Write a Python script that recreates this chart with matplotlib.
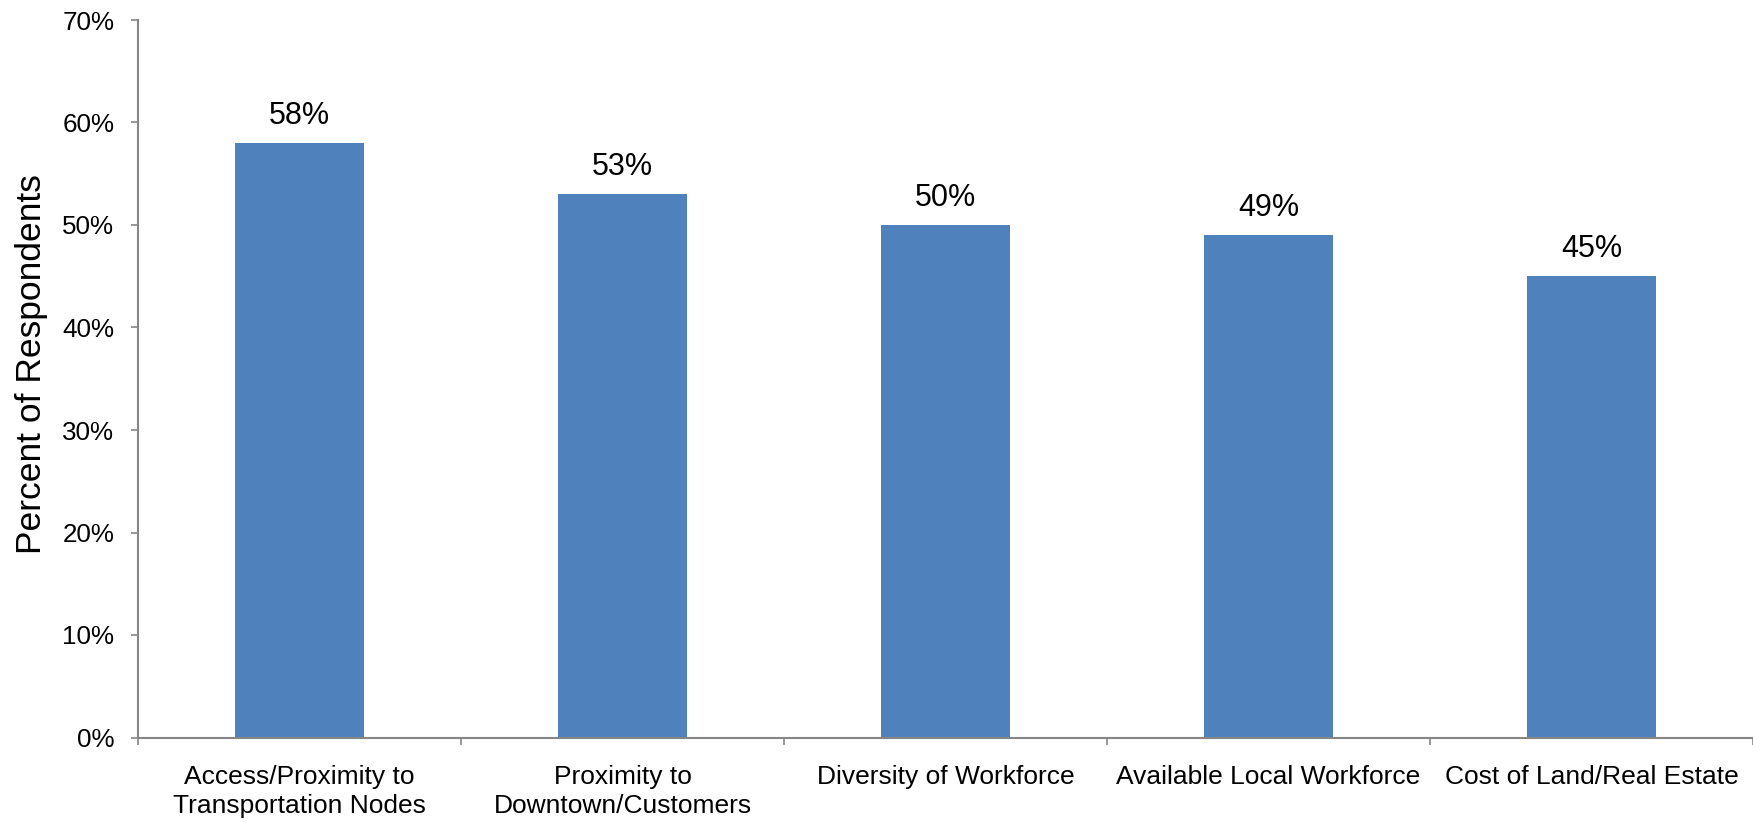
import numpy as np
import matplotlib.pyplot as plt
from matplotlib.ticker import FixedLocator, PercentFormatter

plt.rcParams['font.family'] = ['Liberation Sans', 'DejaVu Sans']

categories = ['Access/Proximity to\nTransportation Nodes', 'Proximity to\nDowntown/Customers',
              'Diversity of Workforce', 'Available Local Workforce', 'Cost of Land/Real Estate']
values = [58, 53, 50, 49, 45]
bar_labels = ['58%', '53%', '50%', '49%', '45%']

fig = plt.figure(figsize=(17.53, 8.22), dpi=100)
ax = fig.add_axes([138 / 1753, 1 - 737.5 / 822, 1 - 138 / 1753, (737.5 - 20) / 822])

x = np.arange(len(categories))
bars = ax.bar(x, values, width=0.4, color='#4F81BD')

for b, lab in zip(bars, bar_labels):
    ax.annotate(lab, (b.get_x() + b.get_width() / 2, b.get_height()),
                xytext=(0, 8.5), textcoords='offset points',
                ha='center', va='bottom', fontsize=22)

ax.set_xlim(-0.5, len(categories) - 0.5)
ax.set_ylim(0, 70)
ax.set_yticks(range(0, 71, 10))
ax.yaxis.set_major_formatter(PercentFormatter(decimals=0))

# tick marks between categories, labels under bar centres
ax.xaxis.set_major_locator(FixedLocator(np.arange(-0.5, len(categories), 1.0)))
ax.xaxis.set_minor_locator(FixedLocator(x))
ax.set_xticklabels([], minor=False)
ax.set_xticklabels(categories, minor=True, fontsize=19, linespacing=1.25)
ax.tick_params(axis='x', which='minor', length=0, pad=20)
ax.tick_params(axis='x', which='major', length=5, width=1.2, color='#868686', direction='out')
ax.tick_params(axis='y', length=5, width=1.2, color='#868686', labelsize=18.7, pad=12)

for s in ['top', 'right']:
    ax.spines[s].set_visible(False)
for s in ['left', 'bottom']:
    ax.spines[s].set_color('#868686')
    ax.spines[s].set_linewidth(1.5)

ax.set_ylabel('Percent of Respondents', fontsize=25.5, labelpad=10, y=0.52)

fig.savefig('out.png', dpi=100)
